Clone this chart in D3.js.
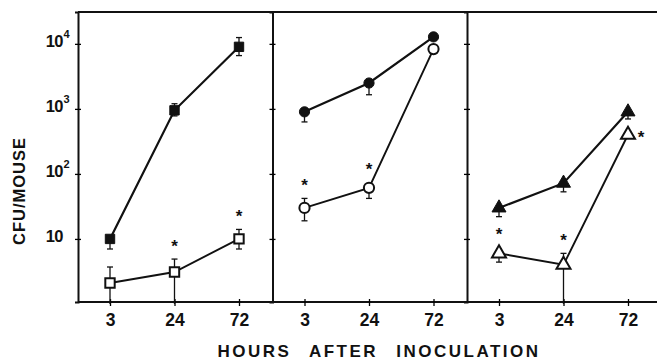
<!DOCTYPE html>
<html>
<head>
<meta charset="utf-8">
<script src="https://cdn.jsdelivr.net/npm/d3@7"></script>
<style>
  body { margin: 0; background: #fff; }
  svg { display: block; font-family: "Liberation Sans", Arial, sans-serif; font-weight: bold; }
</style>
</head>
<body>
<div class="chart"></div>
<script>
const hours = ["3", "24", "72"];
const yTicks = [10, 100, 1000, 10000];

// each panel: filled (control) and open (treated) series
const sqFilled = [10, 950, 9000];
const sqFilledLo = [7, 780, 6600];
const sqFilledHi = [10, 1200, 12500];
const sqOpen = [2.1, 3.1, 10];
const sqOpenLo = [1, 1, 7];
const sqOpenHi = [3.7, 4.9, 14];
const sqStars = ["", "above", "above"];

const ciFilled = [900, 2500, 12800];
const ciFilledLo = [630, 1650, 12800];
const ciFilledHi = [900, 2500, 12800];
const ciOpen = [30, 61, 8300];
const ciOpenLo = [19, 42, 8300];
const ciOpenHi = [42, 61, 8300];
const ciStars = ["above", "above", ""];

const trFilled = [30, 72, 900];
const trFilledLo = [22, 53, 700];
const trFilledHi = [30, 72, 900];
const trOpen = [6, 4, 400];
const trOpenLo = [4.4, 1, 400];
const trOpenHi = [7, 6, 400];
const trStars = ["above", "above", "right"];

const panels = [
  {shape: "square", filled: [sqFilled, sqFilledLo, sqFilledHi], open: [sqOpen, sqOpenLo, sqOpenHi], stars: sqStars},
  {shape: "circle", filled: [ciFilled, ciFilledLo, ciFilledHi], open: [ciOpen, ciOpenLo, ciOpenHi], stars: ciStars},
  {shape: "triangle", filled: [trFilled, trFilledLo, trFilledHi], open: [trOpen, trOpenLo, trOpenHi], stars: trStars}
];

const width = 657, height = 363;
const margin = {left: 78, top: 12, bottom: 302};
const panelW = 194.5;

const svg = d3.select(".chart").append("svg")
  .attr("width", width).attr("height", height);

const y = d3.scaleLog()
  .domain([Math.pow(10, 0.03), Math.pow(10, 4.49)])
  .range([margin.bottom, margin.top]);

const xInner = d3.scalePoint().domain(hours).range([32, 161]);

const symbolFor = {
  square: d3.symbol().type(d3.symbolSquare).size(88),
  circle: d3.symbol().type(d3.symbolCircle).size(82),
  triangle: d3.symbol().type(d3.symbolTriangle).size(85)
};

// frame
svg.append("line").attr("x1", margin.left).attr("x2", width)
  .attr("y1", margin.top).attr("y2", margin.top)
  .attr("stroke", "#111").attr("stroke-width", 2);

panels.forEach((p, i) => {
  const x0 = margin.left + i * panelW;
  const g = svg.append("g").attr("transform", `translate(${x0},0)`);

  // vertical axis / divider
  g.append("g")
    .call(d3.axisLeft(y).tickValues(yTicks).tickSize(3).tickFormat(""))
    .call(a => a.select(".domain").attr("stroke-width", 2).attr("stroke", "#111"))
    .call(a => a.selectAll(".tick line").attr("x2", 3).attr("x1", -3).attr("stroke-width", 1.3));

  // bottom axis
  g.append("g").attr("transform", `translate(0,${margin.bottom})`)
    .call(d3.axisBottom(xInner).tickSize(4).tickSizeOuter(0))
    .call(a => a.select(".domain").attr("d", `M0,0H${panelW + 2}`).attr("stroke-width", 2).attr("stroke", "#111"))
    .call(a => a.selectAll(".tick line").attr("y1", -3).attr("y2", 4).attr("stroke-width", 1.3))
    .call(a => a.selectAll(".tick text").attr("y", 24).attr("dy", null)
      .style("font-size", "17.5px").style("font-weight", "bold").attr("fill", "#111"));

  const drawSeries = (vals, lo, hi, filled) => {
    const pts = hours.map((h, k) => ({h, v: vals[k], lo: lo[k], hi: hi[k]}));
    g.append("path")
      .attr("d", d3.line().x(d => xInner(d.h)).y(d => y(d.v))(pts))
      .attr("fill", "none").attr("stroke", "#111")
      .attr("stroke-width", filled ? 2.2 : 1.9);
    const eb = g.append("g").selectAll("g").data(pts).join("g")
      .attr("stroke", "#111").attr("stroke-width", 1.3);
    eb.append("line")
      .attr("x1", d => xInner(d.h)).attr("x2", d => xInner(d.h))
      .attr("y1", d => y(d.lo)).attr("y2", d => y(d.hi));
    eb.filter(d => d.lo < d.v && d.lo > 1.2).append("line")
      .attr("x1", d => xInner(d.h) - 3).attr("x2", d => xInner(d.h) + 3)
      .attr("y1", d => y(d.lo)).attr("y2", d => y(d.lo));
    eb.filter(d => d.hi > d.v).append("line")
      .attr("x1", d => xInner(d.h) - 3).attr("x2", d => xInner(d.h) + 3)
      .attr("y1", d => y(d.hi)).attr("y2", d => y(d.hi));
    g.append("g").selectAll("path").data(pts).join("path")
      .attr("d", symbolFor[p.shape])
      .attr("transform", d => `translate(${xInner(d.h)},${y(d.v)})`)
      .attr("fill", filled ? "#111" : "#fff")
      .attr("stroke", "#111").attr("stroke-width", filled ? 1 : 2);
    return pts;
  };

  drawSeries(p.filled[0], p.filled[1], p.filled[2], true);
  const openPts = drawSeries(p.open[0], p.open[1], p.open[2], false);

  // significance stars
  g.append("g").selectAll("text")
    .data(openPts.map((d, k) => ({...d, star: p.stars[k]})).filter(d => d.star))
    .join("text")
    .attr("x", d => d.star === "right" ? xInner(d.h) + 13 : xInner(d.h))
    .attr("y", d => d.star === "right" ? y(d.v) + 8 : Math.min(y(d.hi), y(d.v) - 6) - 7)
    .attr("text-anchor", "middle")
    .style("font-size", "17px").attr("fill", "#111")
    .text("*");
});

// y tick labels
const yl = svg.append("g").attr("fill", "#111");
yTicks.forEach(v => {
  const e = Math.round(Math.log10(v));
  yl.append("text").attr("x", 63).attr("y", y(v) + 3)
    .attr("text-anchor", "end").style("font-size", "16.5px").style("letter-spacing", "-0.5px")
    .text("10");
  if (e > 1) {
    yl.append("text").attr("x", 63.5).attr("y", y(v) - 6)
      .style("font-size", "11px").text(e);
  }
});

// axis titles
svg.append("text")
  .attr("x", 379).attr("y", 357)
  .attr("text-anchor", "middle").attr("fill", "#111")
  .style("font-size", "17px").style("letter-spacing", "2.5px").style("word-spacing", "11px")
  .text("HOURS AFTER INOCULATION");

svg.append("text")
  .attr("transform", `translate(25,191) rotate(-90)`)
  .attr("text-anchor", "middle").attr("fill", "#111")
  .style("font-size", "16.5px").style("letter-spacing", "1px")
  .text("CFU/MOUSE");
</script>
</body>
</html>
